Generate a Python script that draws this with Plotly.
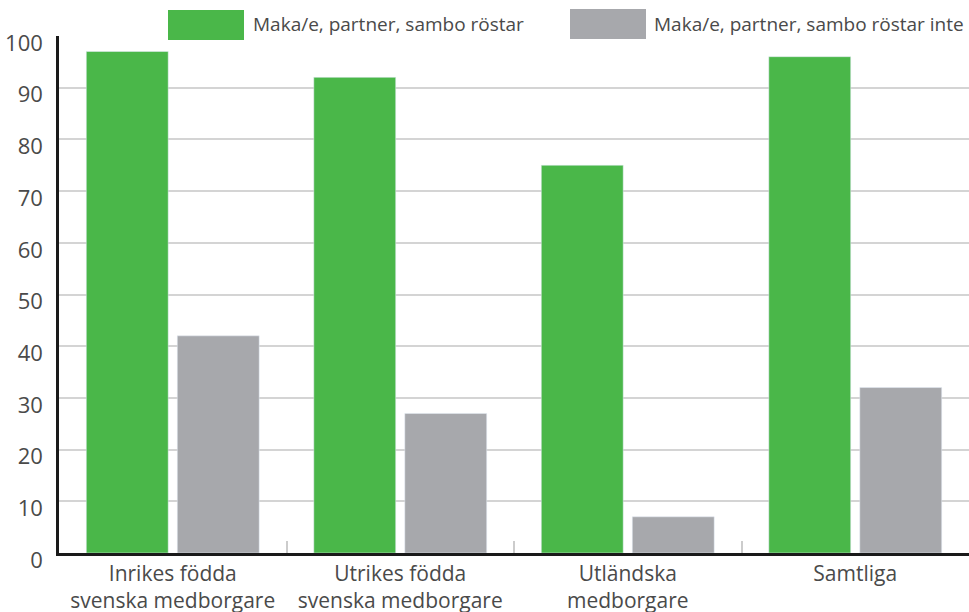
import plotly.graph_objects as go

categories = ["Inrikes födda<br>svenska medborgare", "Utrikes födda<br>svenska medborgare",
              "Utländska<br>medborgare", "Samtliga"]
votes = [97, 92, 75, 96]
no_votes = [42, 27, 7, 32]
series_names = ["Maka/e, partner, sambo röstar", "Maka/e, partner, sambo röstar inte"]

GREEN = "#4ab749"
GREY = "#a7a8ac"
TEXT = "#4a4a4a"
FONT = "Open Sans"
W, H = 969, 612

fig = go.Figure()
fig.add_trace(go.Bar(x=categories, y=votes, name=series_names[0], marker_color=GREEN))
fig.add_trace(go.Bar(x=categories, y=no_votes, name=series_names[1], marker_color=GREY))

# hand-made legend (big swatches), in pixel terms converted to paper coords
ml, mr, mt, mb = 59, 0, 36, 59
pw, ph = W - ml - mr, H - mt - mb


def px(x):
    return (x - ml) / pw


def py(y):
    return (H - mb - y) / ph


shapes = [
    # white strip behind the legend hides the top gridline
    dict(type="rect", xref="paper", yref="paper", x0=px(86), x1=px(969), y0=py(44), y1=py(0),
         fillcolor="white", line_width=0, layer="between"),
    dict(type="rect", xref="paper", yref="paper", x0=px(168), x1=px(244), y0=py(40), y1=py(10),
         fillcolor=GREEN, line_width=0),
    dict(type="rect", xref="paper", yref="paper", x0=px(570), x1=px(646), y0=py(39), y1=py(9),
         fillcolor=GREY, line_width=0),
]
annotations = [
    dict(text=series_names[0], xref="paper", yref="paper", x=px(251), y=py(24), xanchor="left",
         yanchor="middle", showarrow=False, font=dict(size=19, color=TEXT, family=FONT)),
    dict(text=series_names[1], xref="paper", yref="paper", x=px(652), y=py(24), xanchor="left",
         yanchor="middle", showarrow=False, font=dict(size=19, color=TEXT, family=FONT)),
]

fig.update_layout(
    width=W, height=H,
    margin=dict(l=ml, r=mr, t=mt, b=mb),
    plot_bgcolor="white", paper_bgcolor="white",
    barmode="group", bargap=0.2, bargroupgap=0.1,
    showlegend=False,
    font=dict(family=FONT, color=TEXT),
    shapes=shapes, annotations=annotations,
)
fig.update_xaxes(
    automargin=False,
    showline=True, linecolor="#1a1a1a", linewidth=2.5,
    tickson="boundaries", ticks="inside", ticklen=12, tickcolor="#cccccc", tickwidth=1.5,
    tickfont=dict(size=21, color=TEXT), showgrid=False, ticklabelstandoff=0,
)
fig.update_yaxes(
    automargin=False,
    range=[0, 100], dtick=10, showline=True, linecolor="#1a1a1a", linewidth=2.5,
    showgrid=True, gridcolor="#d4d4d4", gridwidth=1.5, zeroline=False,
    tickfont=dict(size=22, color=TEXT), ticks="", ticklabelstandoff=9, ticklabelshift=7,
)

# drop the page's default body margin so the figure sits at the window corner
fig.write_html("out.html", config={"displayModeBar": False},
               post_script="document.body.style.margin='0';")
